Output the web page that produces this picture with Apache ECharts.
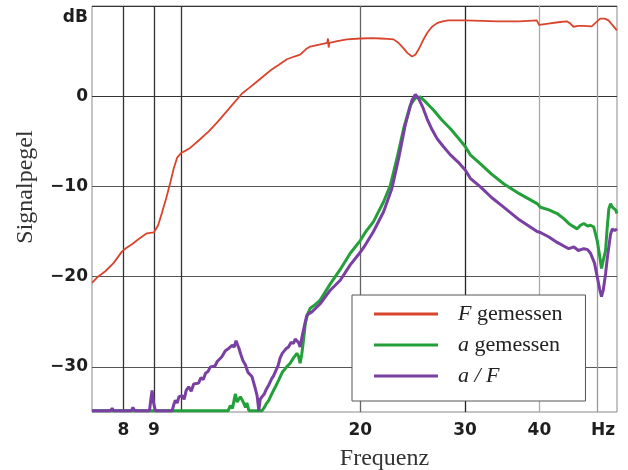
<!DOCTYPE html>
<html>
<head>
<meta charset="utf-8">
<script src="https://cdn.jsdelivr.net/npm/echarts@6/dist/echarts.min.js"></script>
<style>
  html, body { margin: 0; padding: 0; background: #fff; }
  #chart { width: 628px; height: 470px; }
</style>
</head>
<body>
<div id="chart"></div>
<script>
// Frequency axis (Hz, logarithmic) and level axis (dB)
const xGridValues = [8, 9, 10, 20, 30, 40, 50];
const xLabelValues = [8, 9, 20, 30, 40, 50];
const yGridValues = [-30, -20, -10, 0, 10];

// F gemessen
const freqF = [7.085, 7.25, 7.46, 7.7, 7.96, 8.1, 8.27, 8.5, 8.76, 9.0, 9.15, 9.29, 9.45, 9.59, 9.72, 9.85,
  10.0, 10.2, 10.37, 10.75, 11.13, 11.5, 11.87, 12.25, 12.66, 13.0, 13.34, 13.8, 14.22, 14.6, 15.06, 15.5,
  15.85, 16.2, 16.48, 17.0, 17.6, 17.65, 17.7, 17.75, 18.3, 18.99, 20.0, 21.0, 21.61, 22.2, 22.75, 23.2,
  23.5, 24.0, 24.43, 24.75, 25.07, 25.5, 25.9, 26.4, 26.92, 27.5, 28.12, 30.0, 32.0, 34.13, 37.0, 39.58,
  39.7, 39.96, 41.42, 43.0, 44.46, 45.0, 45.63, 46.5, 47.44, 48.98, 49.3, 49.63, 50.6, 51.5, 52.26, 53.2, 53.97];
const levelF = [-20.7, -20.0, -19.4, -18.5, -17.2, -16.8, -16.4, -15.8, -15.2, -15.1, -14.3, -12.9, -11.2, -9.6, -8.0, -6.8,
  -6.3, -6.0, -5.7, -4.8, -3.9, -2.9, -1.85, -0.8, 0.3, 0.9, 1.5, 2.3, 3.0, 3.5, 4.1, 4.4,
  4.6, 5.2, 5.5, 5.7, 5.9, 6.4, 5.4, 5.9, 6.1, 6.3, 6.4, 6.45, 6.4, 6.35, 6.3, 5.9,
  5.5, 4.8, 4.4, 4.6, 5.2, 6.2, 7.0, 7.7, 8.1, 8.3, 8.4, 8.4, 8.35, 8.3, 8.3, 8.4,
  8.45, 7.9, 8.05, 8.2, 8.3, 8.1, 7.7, 7.8, 7.8, 7.75, 7.7, 8.1, 8.6, 8.6, 8.4, 7.8, 7.3];

// a gemessen
const freqA = [7.085, 12.0, 12.1, 12.2, 12.3, 12.34, 12.42, 12.5, 12.58, 12.66, 12.74, 12.83, 12.9, 13.0, 13.68,
  13.8, 13.9, 14.04, 14.2, 14.3, 14.41, 14.49, 14.6, 14.79, 14.9, 15.05, 15.25, 15.45, 15.65, 15.75, 15.85,
  15.95, 16.06, 16.17, 16.3, 16.48, 16.8, 17.13, 17.81, 18.51, 19.24, 20.0, 20.39, 21.05, 21.89, 22.46, 23.05,
  23.65, 24.27, 24.75, 25.23, 25.9, 26.57, 27.4, 28.35, 29.2, 30.04, 30.62, 31.84, 33.2, 34.83, 37.0, 39.64,
  40.15, 41.5, 42.84, 44.0, 44.8, 45.5, 46.29, 46.9, 47.49, 47.8, 48.2, 48.74, 49.36, 50.02, 50.33, 50.86,
  51.2, 51.66, 52.0, 52.32, 52.67, 53.02, 53.35, 53.7, 54.0];
const levelA = [-34.85, -34.85, -34.3, -34.6, -33.4, -33.0, -33.9, -33.7, -33.3, -33.2, -34.0, -34.5, -34.0, -34.85, -34.85,
  -34.5, -34.1, -33.7, -33.0, -32.6, -32.2, -32.0, -31.4, -30.6, -30.5, -30.0, -29.6, -29.0, -28.5, -28.8, -29.6,
  -28.6, -27.0, -25.2, -24.2, -23.5, -23.1, -22.6, -20.8, -19.2, -17.4, -16.0, -15.1, -13.9, -11.7, -9.9, -6.9,
  -3.6, -1.0, -0.2, -0.07, -0.8, -1.55, -2.6, -3.6, -4.6, -5.6, -6.5, -7.5, -8.6, -9.7, -10.8, -11.9,
  -12.3, -12.6, -13.0, -13.6, -14.1, -14.4, -14.7, -14.3, -14.1, -14.0, -14.4, -14.3, -14.5, -16.0, -17.1, -19.1,
  -18.2, -17.1, -14.5, -12.5, -11.9, -12.3, -12.1, -12.6, -13.0];

// a / F
const freqAF = [7.085, 7.5, 7.62, 7.66, 7.7, 8.25, 8.3, 8.36, 8.85, 8.9, 8.94, 8.98, 9.02, 9.05, 9.66, 9.72,
  9.78, 9.85, 9.92, 10.04, 10.12, 10.2, 10.3, 10.4, 10.5, 10.57, 10.7, 10.8, 10.9, 10.99, 11.1, 11.2,
  11.27, 11.4, 11.5, 11.57, 11.7, 11.8, 11.87, 11.95, 12.05, 12.18, 12.28, 12.37, 12.45, 12.52, 12.58, 12.7,
  12.83, 12.95, 13.05, 13.16, 13.3, 13.42, 13.51, 13.58, 13.68, 13.8, 13.9, 14.04, 14.2, 14.3, 14.41, 14.55,
  14.67, 14.79, 14.9, 15.0, 15.15, 15.3, 15.45, 15.55, 15.65, 15.75, 15.85, 15.95, 16.06, 16.17, 16.27, 16.4,
  16.59, 17.13, 17.81, 18.51, 19.24, 20.0, 20.39, 21.05, 21.89, 22.61, 23.2, 23.8, 24.43, 24.75, 25.07, 25.5,
  25.9, 26.4, 26.92, 27.6, 28.35, 29.2, 30.04, 30.62, 31.84, 33.2, 34.83, 37.0, 39.64, 40.15, 41.5, 42.84,
  44.8, 45.7, 46.5, 47.49, 48.2, 48.74, 49.5, 50.02, 50.5, 50.86, 51.2, 51.66, 52.0, 52.32, 52.67, 53.02, 53.5, 54.0];
const levelAF = [-34.85, -34.85, -34.85, -34.6, -34.85, -34.85, -34.5, -34.85, -34.85, -33.5, -32.6, -33.8, -34.4, -34.85, -34.85, -34.2,
  -33.7, -34.0, -33.3, -33.2, -33.6, -32.6, -32.2, -32.7, -31.9, -31.7, -31.8, -31.2, -31.4, -30.7, -30.5, -30.0,
  -29.8, -29.9, -29.4, -29.3, -28.9, -28.5, -28.2, -28.4, -27.9, -27.6, -27.8, -27.1, -27.6, -28.0, -28.5, -29.3,
  -29.8, -30.6, -30.4, -31.1, -32.2, -33.2, -34.85, -33.6, -33.3, -33.0, -32.5, -32.0, -31.3, -31.0, -30.5, -29.9,
  -29.0, -28.5, -28.3, -28.0, -27.8, -27.3, -27.4, -26.9, -26.7, -27.3, -27.8, -26.8, -25.9, -25.0, -24.3, -24.1,
  -23.9, -23.0, -21.5, -20.4, -18.7, -17.3, -16.5, -15.0, -12.8, -10.2, -6.9, -3.2, -0.44, 0.19, -0.26, -1.3,
  -2.5, -3.7, -4.7, -5.6, -6.5, -7.3, -8.2, -9.1, -10.05, -11.2, -12.3, -13.7, -15.0, -15.1, -15.6, -16.2,
  -16.9, -16.7, -17.1, -16.9, -17.0, -17.4, -18.5, -20.0, -21.4, -22.2, -21.5, -19.7, -18.0, -16.7, -15.3, -14.7, -14.9, -14.7];

const zip = (xs, ys) => xs.map((x, i) => [x, ys[i]]);

const tickFont = { fontFamily: 'DejaVu Sans', fontWeight: 'bold', fontSize: 17, color: '#1e1e1e' };
const serif = 'Liberation Serif';

const chart = echarts.init(document.getElementById('chart'), null, { renderer: 'canvas' });

chart.setOption({
  animation: false,
  backgroundColor: '#ffffff',
  grid: {
    left: 92, top: 6, right: 11, bottom: 58,
    outerBoundsMode: 'none',
    containLabel: false,
    show: true, borderColor: '#888', borderWidth: 1, backgroundColor: 'transparent'
  },
  xAxis: {
    type: 'log',
    logBase: 10,
    min: 7.085,
    max: 54.0,
    name: 'Frequenz',
    nameLocation: 'middle',
    nameGap: 35,
    nameTextStyle: { fontFamily: serif, fontSize: 24, color: '#333', padding: [0, 0, 0, 60] },
    axisLine: { show: false },
    axisTick: { show: false, customValues: xGridValues },
    axisLabel: {
      customValues: xLabelValues,
      margin: 10,
      ...tickFont,
      formatter: v => (Math.round(v) === 50 ? '{hz|Hz}' : String(Math.round(v))),
      rich: { hz: { ...tickFont, padding: [0, 0, 0, 12] } }
    },
    splitLine: {
      show: true,
      lineStyle: { color: ['#333', '#333', '#333', '#666', '#222', '#aaa', '#999'], width: 1.3 }
    }
  },
  yAxis: {
    type: 'value',
    min: -35,
    max: 10,
    name: 'Signalpegel',
    nameLocation: 'middle',
    nameRotate: 90,
    nameGap: 54,
    nameTextStyle: { fontFamily: serif, fontSize: 24, color: '#333', padding: [0, 0, 0, 44] },
    axisLine: { show: false },
    axisTick: { show: false, customValues: yGridValues },
    axisLabel: {
      customValues: yGridValues,
      margin: 4,
      ...tickFont,
      formatter: v => (v === 10 ? '{u|dB}' : (v < 0 ? '\u2212' + Math.abs(v) : String(v))),
      rich: { u: { ...tickFont, padding: [24, 0, 0, 0] } }
    },
    splitLine: {
      show: true,
      lineStyle: { color: ['#555', '#555', '#555', '#333', '#333'], width: 1.2 }
    }
  },
  legend: {
    orient: 'vertical',
    left: 352,
    top: 295,
    selectedMode: false,
    backgroundColor: '#fff',
    borderColor: '#555',
    borderWidth: 1,
    padding: [8, 23, 14, 22],
    itemGap: 9,
    itemWidth: 64,
    itemHeight: 3,
    icon: 'rect',
    data: ['F gemessen', 'a gemessen', 'a / F'],
    textStyle: { fontFamily: serif, fontSize: 22, lineHeight: 22, color: '#222', padding: [0, 0, 0, 15] },
    formatter: name => {
      if (name === 'F gemessen') return '{it|F} {n|gemessen}';
      if (name === 'a gemessen') return '{it|a} {n|gemessen}';
      return '{it|a / F}';
    }
  },
  series: [
    {
      name: 'F gemessen', type: 'line', data: zip(freqF, levelF),
      showSymbol: false, symbol: 'none', smooth: false,
      color: '#d9442c', lineStyle: { width: 1.8, color: '#d9442c' }
    },
    {
      name: 'a gemessen', type: 'line', data: zip(freqA, levelA),
      showSymbol: false, symbol: 'none',
      color: '#23a03a', lineStyle: { width: 3, color: '#23a03a' }
    },
    {
      name: 'a / F', type: 'line', data: zip(freqAF, levelAF),
      showSymbol: false, symbol: 'none',
      color: '#7a3fa2', lineStyle: { width: 3, color: '#7a3fa2' }
    }
  ]
});

// Italic symbols inside the legend labels
chart.setOption({
  legend: {
    textStyle: {
      rich: {
        it: { fontFamily: serif, fontSize: 22, fontStyle: 'italic', color: '#222', lineHeight: 22 },
        n: { fontFamily: serif, fontSize: 22, color: '#222', lineHeight: 22 }
      }
    }
  }
});
</script>
</body>
</html>
